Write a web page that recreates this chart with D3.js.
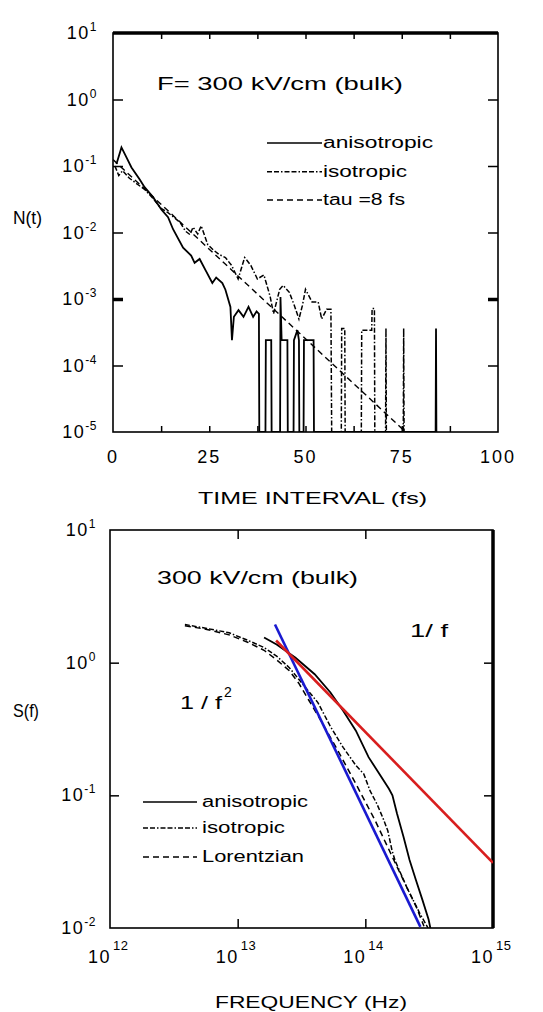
<!DOCTYPE html>
<html><head><meta charset="utf-8">
<script src="https://cdn.jsdelivr.net/npm/d3@7"></script>
<style>body{margin:0;background:#fff}svg{display:block}text{font-family:"Liberation Sans",Arial,sans-serif;fill:#000}</style>
</head><body>
<svg id="c" width="543" height="1012"></svg>
<script>
// ---------- Top panel data: N(t) ----------
const topXTicks = [0, 25, 50, 75, 100];
const topYExp = [1, 0, -1, -2, -3, -4, -5];
const anisoT = [0.9,2.2,3.5,4.8,6.9,8.2,10.4,12.6,14.3,15.6,18.2,20.3,21.2,22.5,24.2,25.8,26.8,28.4,29.2,30.5,30.9,31.4,32.6,33.9,35.2,36.4,37.3,37.9,38.0,39.6,39.7,41.1,41.2,43.4,43.5,43.8,45.3,45.4,46.9,47.0,47.9,48.3,48.4,49.5,49.6,52.1,52.2,83.8,83.9,84.0];
const anisoN = [0.107,0.19,0.135,0.095,0.063,0.048,0.034,0.022,0.017,0.0112,0.0059,0.0045,0.0035,0.0040,0.0026,0.00174,0.0021,0.00174,0.00138,0.00076,0.00024,0.00054,0.00068,0.00054,0.00076,0.00054,0.00065,0.0006,0,0,0.00024,0.00024,0,0,0.00107,0.00024,0.00024,0,0,0.00024,0.00034,0.00024,0,0,0.00024,0.00024,0,0,0.00036,0];
const isoT = [0.5,1.5,2.5,4.2,6.0,8.3,10.5,12.5,14.2,15.8,17.5,18.8,20.0,20.8,22.0,22.9,24.6,26.0,27.5,29.2,30.8,32.5,34.2,35.8,37.5,39.2,40.8,41.7,43.3,44.2,45.8,47.1,48.3,49.2,50.0,51.7,53.3,54.2,55.5,56.6,56.8,59.3,59.4,60.2,60.3,64.5,64.6,67.2,67.3,67.9,68.0,70.8,70.9,71.0,75.4,75.5,75.6];
const isoN = [0.10,0.072,0.085,0.066,0.055,0.044,0.032,0.023,0.020,0.017,0.014,0.0105,0.0093,0.012,0.0095,0.0126,0.0066,0.0055,0.0047,0.0042,0.0032,0.002,0.0042,0.0032,0.002,0.0023,0.0011,0.0006,0.0014,0.0016,0.00126,0.0008,0.0005,0.0008,0.0014,0.0009,0.0009,0.0005,0.0007,0.0007,0,0,0.00036,0.00036,0,0,0.00034,0.00034,0.00072,0.00072,0,0,0.00036,0,0,0.00036,0];
const tauT = [0, 76];
const tauN = [0.125, 1e-5];
const topLegend = ["anisotropic", "isotropic", "tau =8 fs"];

// ---------- Bottom panel data: S(f) ----------
const botXExp = [12, 13, 14, 15];
const botYExp = [1, 0, -1, -2];
const sAnisoF = [1.61e13,2.02e13,2.84e13,4.01e13,5.33e13,6.70e13,8.43e13,1.06e14,1.26e14,1.53e14,1.63e14,1.77e14,1.99e14,2.22e14,2.49e14,2.80e14,3.13e14,3.23e14];
const sAnisoS = [1.55,1.37,1.09,0.818,0.596,0.434,0.307,0.194,0.150,0.112,0.100,0.073,0.0487,0.0326,0.0230,0.0163,0.0116,0.0100];
const sIsoF = [3.86e12,5.74e12,8.57e12,1.21e13,1.61e13,2.02e13,2.54e13,3.01e13,3.57e13,4.25e13,5.33e13,6.7e13,8.43e13,9.72e13,1.09e14,1.23e14,1.37e14,1.50e14,1.62e14,1.71e14,2.12e14,2.68e14,3.1e14];
const sIsoS = [1.94,1.81,1.68,1.47,1.30,1.12,0.917,0.75,0.613,0.50,0.33,0.23,0.168,0.145,0.108,0.0865,0.068,0.054,0.0383,0.0322,0.0201,0.0128,0.01];
const sLorF = [3.86e12,5.74e12,8.57e12,1.21e13,1.61e13,2.02e13,2.54e13,3.01e13,3.57e13,4.25e13,5.04e13,5.98e13,8.43e13,1.19e14,1.67e14,2.10e14,2.5e14,2.88e14];
const sLorS = [1.90,1.78,1.62,1.42,1.24,1.05,0.87,0.70,0.53,0.40,0.30,0.225,0.122,0.065,0.0326,0.0205,0.0145,0.0103];
const redF = [2.0e13, 1e15];
const redS = [1.47, 0.031];
const blueF = [1.96e13, 2.7e14];
const blueS = [1.94, 0.0102];
const botLegend = ["anisotropic", "isotropic", "Lorentzian"];

// ---------- drawing ----------
const svg = d3.select("#c");
const zip = (a, b) => a.map((v, i) => [v, b[i]]);
const DASHDOT = "5,2,5,2,1.5,2";
const TAUDASH = "6,4";

function txt(x, y, s, opt = {}) {
  const t = svg.append("text").attr("x", x).attr("y", y).text(s)
    .attr("font-size", opt.size || 18).attr("text-anchor", opt.anchor || "start");
  if (opt.len) t.attr("textLength", opt.len).attr("lengthAdjust", "spacingAndGlyphs");
  if (opt.ls) t.attr("letter-spacing", opt.ls);
  return t;
}
function pow10Label(x, y, e, anchor) {
  const t = svg.append("text").attr("x", x).attr("y", y).attr("text-anchor", anchor)
    .attr("font-size", 18).attr("letter-spacing", 1.5);
  t.append("tspan").text("10");
  t.append("tspan").attr("dy", -8).attr("font-size", 12).attr("letter-spacing", 0.5).text(String(e));
  return t;
}
function noDomain(g) { g.select(".domain").remove(); g.selectAll("text").remove(); g.selectAll("line").attr("stroke", "#000").attr("stroke-width", 1.5); }

// ===== TOP PANEL =====
const xT = d3.scaleLinear().domain([0, 100]).range([113, 498]);
const yT = d3.scaleLog().domain([1e-5, 10]).range([432, 33]);
const minorT = d3.range(12.5, 100, 12.5);
svg.append("g").attr("transform", `translate(0,${yT.range()[0]})`)
  .call(d3.axisBottom(xT).tickValues(minorT).tickSize(-6)).call(noDomain);
svg.append("g").attr("transform", `translate(0,${yT.range()[1]})`)
  .call(d3.axisTop(xT).tickValues(minorT).tickSize(-6)).call(noDomain);
const decT = [0, -1, -2, -3, -4].map(e => Math.pow(10, e));
svg.append("g").attr("transform", `translate(${xT.range()[0]},0)`)
  .call(d3.axisLeft(yT).tickValues(decT).tickSize(-10)).call(noDomain);
svg.append("g").attr("transform", `translate(${xT.range()[1]},0)`)
  .call(d3.axisRight(yT).tickValues(decT).tickSize(-10)).call(noDomain);
svg.selectAll("g.tick").filter(d => d === 1e-3).selectAll("line").attr("stroke-width", 3.5);

svg.append("rect").attr("x", xT.range()[0]).attr("y", yT.range()[1])
  .attr("width", xT.range()[1] - xT.range()[0]).attr("height", yT.range()[0] - yT.range()[1])
  .attr("fill", "none").attr("stroke", "#000").attr("stroke-width", 1.6);
svg.append("line").attr("x1", xT.range()[0]).attr("x2", xT.range()[1])
  .attr("y1", yT.range()[1]).attr("y2", yT.range()[1]).attr("stroke", "#000").attr("stroke-width", 3.5);

svg.append("clipPath").attr("id", "clipT").append("rect")
  .attr("x", 113).attr("y", 33).attr("width", 385).attr("height", 399);
const gT = svg.append("g").attr("clip-path", "url(#clipT)");
const lineT = d3.line().x(d => xT(d[0])).y(d => yT(Math.max(d[1], 1e-5)));
gT.append("path").datum(zip(tauT, tauN)).attr("d", lineT).attr("fill", "none")
  .attr("stroke", "#000").attr("stroke-width", 1.4).attr("stroke-dasharray", TAUDASH);
gT.append("path").datum(zip(isoT, isoN)).attr("d", lineT).attr("fill", "none")
  .attr("stroke", "#000").attr("stroke-width", 1.5).attr("stroke-dasharray", DASHDOT);
gT.append("path").datum(zip(anisoT, anisoN)).attr("d", lineT).attr("fill", "none")
  .attr("stroke", "#000").attr("stroke-width", 1.8);

topXTicks.forEach(v => txt(xT(v), 463, String(v), { anchor: "middle", ls: 2 }));
topYExp.forEach(e => pow10Label(97, yT(Math.pow(10, e)) + 6, e, "end"));
txt(13, 224, "N(t)", { size: 19, len: 29 });
txt(157, 90, "F= 300 kV/cm (bulk)", { size: 19, len: 246 });
txt(198, 504, "TIME INTERVAL (fs)", { size: 17, len: 229 });

const topLegY = [143, 171.7, 200];
const topDash = [null, DASHDOT, TAUDASH];
const topLegLen = [110, 84, 82];
topLegend.forEach((s, i) => {
  const l = svg.append("line").attr("x1", 267).attr("x2", 322).attr("y1", topLegY[i]).attr("y2", topLegY[i])
    .attr("stroke", "#000").attr("stroke-width", 1.5);
  if (topDash[i]) l.attr("stroke-dasharray", topDash[i]);
  txt(323, topLegY[i] + 5, s, { size: 16, len: topLegLen[i] });
});

// ===== BOTTOM PANEL =====
const xB = d3.scaleLog().domain([1e12, 1e15]).range([110, 493]);
const yB = d3.scaleLog().domain([1e-2, 10]).range([928, 530]);
const midF = [1e13, 1e14];
const midS = [1, 0.1];
svg.append("g").attr("transform", `translate(0,${yB.range()[0]})`)
  .call(d3.axisBottom(xB).tickValues(midF).tickSize(-9)).call(noDomain);
svg.append("g").attr("transform", `translate(0,${yB.range()[1]})`)
  .call(d3.axisTop(xB).tickValues(midF).tickSize(-9)).call(noDomain);
svg.append("g").attr("transform", `translate(${xB.range()[0]},0)`)
  .call(d3.axisLeft(yB).tickValues(midS).tickSize(-9)).call(noDomain);
svg.append("g").attr("transform", `translate(${xB.range()[1]},0)`)
  .call(d3.axisRight(yB).tickValues(midS).tickSize(-9)).call(noDomain);
svg.append("rect").attr("x", xB.range()[0]).attr("y", yB.range()[1])
  .attr("width", xB.range()[1] - xB.range()[0]).attr("height", yB.range()[0] - yB.range()[1])
  .attr("fill", "none").attr("stroke", "#000").attr("stroke-width", 1.6);
svg.append("line").attr("x1", xB.range()[1]).attr("x2", xB.range()[1])
  .attr("y1", yB.range()[1]).attr("y2", yB.range()[0]).attr("stroke", "#000").attr("stroke-width", 3.5);

svg.append("clipPath").attr("id", "clipB").append("rect")
  .attr("x", 110).attr("y", 530).attr("width", 383).attr("height", 398);
const gB = svg.append("g").attr("clip-path", "url(#clipB)");
const lineB = d3.line().x(d => xB(d[0])).y(d => yB(d[1]));
gB.append("path").datum(zip(sLorF, sLorS)).attr("d", lineB).attr("fill", "none")
  .attr("stroke", "#000").attr("stroke-width", 1.5).attr("stroke-dasharray", "6,4");
gB.append("path").datum(zip(sIsoF, sIsoS)).attr("d", lineB).attr("fill", "none")
  .attr("stroke", "#000").attr("stroke-width", 1.5).attr("stroke-dasharray", DASHDOT);
gB.append("path").datum(zip(sAnisoF, sAnisoS)).attr("d", lineB).attr("fill", "none")
  .attr("stroke", "#000").attr("stroke-width", 1.8);
gB.append("path").datum(zip(blueF, blueS)).attr("d", lineB).attr("fill", "none")
  .attr("stroke", "#1a1ad0").attr("stroke-width", 2.6);
gB.append("path").datum(zip(redF, redS)).attr("d", lineB).attr("fill", "none")
  .attr("stroke", "#d81e1e").attr("stroke-width", 2.6);

botXExp.forEach(e => {
  const x = xB(Math.pow(10, e));
  txt(x + 1, 963, "10", { anchor: "end", ls: 1.5 });
  txt(x + 3, 950, String(e), { size: 13, ls: 0.5 });
});
botYExp.forEach(e => pow10Label(96, yB(Math.pow(10, e)) + 6, e, "end"));
txt(13, 717, "S(f)", { size: 19, len: 26 });
txt(157, 584, "300 kV/cm (bulk)", { size: 19, len: 201 });
txt(215, 1008, "FREQUENCY (Hz)", { size: 17, len: 192 });
txt(410, 637, "1/ f", { size: 19, len: 38 });
txt(180, 709, "1 / f", { size: 19, len: 42 });
txt(224, 697, "2", { size: 14 });

const botLegY = [802, 828, 857];
const botDash = [null, DASHDOT, "6,4"];
const botLegLen = [106, 83, 102];
botLegend.forEach((s, i) => {
  const l = svg.append("line").attr("x1", 143).attr("x2", 197).attr("y1", botLegY[i]).attr("y2", botLegY[i])
    .attr("stroke", "#000").attr("stroke-width", 1.5);
  if (botDash[i]) l.attr("stroke-dasharray", botDash[i]);
  txt(202, botLegY[i] + 5, s, { size: 16, len: botLegLen[i] });
});
</script>
</body></html>
